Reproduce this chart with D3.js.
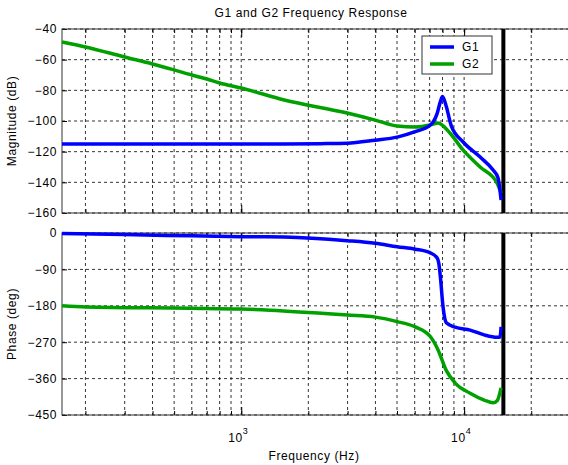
<!DOCTYPE html>
<html lang="en">
  <head>
    <meta charset="utf-8">
    <title>G1 and G2 Frequency Response</title>
    <script src="https://d3js.org/d3.v7.min.js"></script>
    <style type="text/css">
      html, body {
        margin: 0; padding: 0;
        background: #fff;
      }
      text {
        font-family: "Liberation Sans", Arial, sans-serif;
        font-size: 12px;
        letter-spacing: 0.6px;
        fill: #000;
      }
    </style>
  </head>

  <body>
    <svg width="568" height="465"></svg>

    <script type="text/javascript">

      // Data (Hz, dB, deg)
      var g1MagFreq = [157, 1000, 1560, 2260, 2985, 3990, 5010, 6030, 7050, 7260, 7570, 7800, 8000, 8300, 8750, 9900, 11800, 13490, 14190, 14650];
      var g1Mag     = [-115, -115, -115, -114.8, -114.5, -112.5, -110.5, -107, -102.6, -100.7, -95, -88, -84, -90, -103, -113.7, -123.5, -132, -137, -151.5];

      var g2MagFreq = [157, 200, 300, 400, 500, 600, 700, 800, 1000, 1560, 2985, 3990, 5010, 6030, 7050, 7640, 8650, 9900, 11800, 14060, 14650];
      var g2Mag     = [-48.5, -51.7, -58.3, -62.8, -66.7, -70, -72.6, -75.2, -78.5, -86.3, -94.8, -99.4, -103.3, -103.9, -102.6, -101.3, -108, -119, -130, -140.5, -147];

      var g1PhFreq = [157, 300, 600, 1000, 1560, 2985, 3990, 5010, 6030, 7050, 7570, 7700, 7860, 8000, 8150, 8320, 9120, 10640, 12300, 14060, 14500, 14650];
      var g1Ph     = [-1, -4, -7, -9, -10, -19, -25.5, -34, -40, -49, -62, -75, -120, -170, -205, -222, -233, -240, -252, -258, -257, -232];

      var g2PhFreq = [157, 200, 590, 1000, 1350, 2985, 3990, 5010, 6030, 7050, 7640, 8300, 9120, 10640, 12300, 13490, 14060, 14650];
      var g2Ph     = [-180, -183, -186, -188, -191, -203, -208, -219, -232, -256, -289, -339, -371, -396, -413, -420, -415, -383];

      var magTicks = [-160, -140, -120, -100, -80, -60, -40];
      var phTicks  = [-450, -360, -270, -180, -90, 0];
      var decades  = [1000, 10000];
      var cutoff   = 15000;

      var svg = d3.select("svg");

      var x = d3.scaleLog()
                .domain([157, 31600])
                .range([62, 575.5]);

      // minor grid positions: 2..9 of every decade in view
      var minor = [];
      [100, 1000, 10000].forEach(function(d) {
        for (var k = 1; k <= 9; k++) {
          var f = d * k;
          if (f > 157 && f < 31600) minor.push(f);
        }
      });

      var yMag = d3.scaleLinear().domain([-160, -40]).range([213, 29]);
      var yPh  = d3.scaleLinear().domain([-450, 0]).range([415, 233]);

      function panel(y, ticks, top, bottom) {
        var g = svg.append("g");

        // grid
        g.selectAll(".vg").data(minor).enter().append("line")
         .attr("x1", function(d) { return x(d); })
         .attr("x2", function(d) { return x(d); })
         .attr("y1", top).attr("y2", bottom)
         .style("stroke", "#000").style("stroke-width", 0.8)
         .style("stroke-dasharray", "3,3");
        g.selectAll(".hg").data(ticks).enter().append("line")
         .attr("x1", 62).attr("x2", 575)
         .attr("y1", function(d) { return y(d); })
         .attr("y2", function(d) { return y(d); })
         .style("stroke", "#000").style("stroke-width", 0.8)
         .style("stroke-dasharray", "3,3");

        // left axis, ticks inside
        var ax = g.append("g")
                  .attr("transform", "translate(62,0)")
                  .call(d3.axisLeft(y).tickValues(ticks).tickSize(-5).tickPadding(5)
                          .tickFormat(d3.format("d")));
        ax.select(".domain").remove();

        // bottom and top log ticks, inside
        [bottom, top].forEach(function(yy, i) {
          var a = g.append("g").attr("transform", "translate(0," + yy + ")");
          var gen = i == 0 ? d3.axisBottom(x) : d3.axisTop(x);
          a.call(gen.tickValues(minor).tickSize(-4).tickFormat(""));
          a.select(".domain").remove();
          var b = g.append("g").attr("transform", "translate(0," + yy + ")");
          var gen2 = i == 0 ? d3.axisBottom(x) : d3.axisTop(x);
          b.call(gen2.tickValues(decades).tickSize(-8).tickFormat(""));
          b.select(".domain").remove();
        });

        g.selectAll(".tick line").style("stroke", "#000");
        g.selectAll(".tick text").style("font-size", "12px")
         .style("font-family", "'Liberation Sans', Arial, sans-serif");

        // frame
        g.append("rect")
         .attr("x", 62).attr("y", top)
         .attr("width", 520).attr("height", bottom - top)
         .style("fill", "none").style("stroke", "#333").style("stroke-width", 1);

        // cutoff line
        g.append("line")
         .attr("x1", x(cutoff)).attr("x2", x(cutoff))
         .attr("y1", top).attr("y2", bottom)
         .style("stroke", "#000").style("stroke-width", 4);

        return g;
      }

      var magG = panel(yMag, magTicks, 29, 213);
      var phG  = panel(yPh, phTicks, 233, 415);

      function curve(g, y, fs, vs, color) {
        var pts = fs.map(function(f, i) { return [f, vs[i]]; });
        var line = d3.line()
                     .x(function(d) { return x(d[0]); })
                     .y(function(d) { return y(d[1]); })
                     .curve(d3.curveMonotoneX);
        g.append("path")
         .datum(pts)
         .attr("d", line)
         .style("fill", "none")
         .style("stroke", color)
         .style("stroke-width", 3.5)
         .style("stroke-linejoin", "round");
      }

      curve(magG, yMag, g2MagFreq, g2Mag, "#00a000");
      curve(magG, yMag, g1MagFreq, g1Mag, "#0000ff");
      curve(phG, yPh, g2PhFreq, g2Ph, "#00a000");
      curve(phG, yPh, g1PhFreq, g1Ph, "#0000ff");

      // legend
      var leg = svg.append("g");
      leg.append("rect")
         .attr("x", 422).attr("y", 36).attr("width", 70).attr("height", 38)
         .style("fill", "#fff").style("stroke", "#333").style("stroke-width", 1);
      [["G1", "#0000ff"], ["G2", "#00a000"]].forEach(function(d, i) {
        var yy = 47 + i * 17;
        leg.append("line")
           .attr("x1", 430).attr("x2", 454).attr("y1", yy).attr("y2", yy)
           .style("stroke", d[1]).style("stroke-width", 3.5);
        leg.append("text").attr("x", 462).attr("y", yy + 4).text(d[0]);
      });

      // x tick labels as powers of ten
      decades.forEach(function(d) {
        var t = svg.append("text")
                   .attr("x", x(d) - 13).attr("y", 442);
        t.append("tspan").text("10");
        t.append("tspan").attr("dy", -8).style("font-size", "9px")
         .text(Math.round(Math.log10(d)));
      });

      // titles
      svg.append("text").attr("x", 311).attr("y", 17)
         .attr("text-anchor", "middle").text("G1 and G2 Frequency Response");
      svg.append("text").attr("x", 314).attr("y", 460)
         .attr("text-anchor", "middle").text("Frequency (Hz)");
      svg.append("text").attr("transform", "translate(16,121) rotate(-90)")
         .attr("text-anchor", "middle").text("Magnitude (dB)");
      svg.append("text").attr("transform", "translate(16,324) rotate(-90)")
         .attr("text-anchor", "middle").text("Phase (deg)");

    </script>
  </body>
</html>
